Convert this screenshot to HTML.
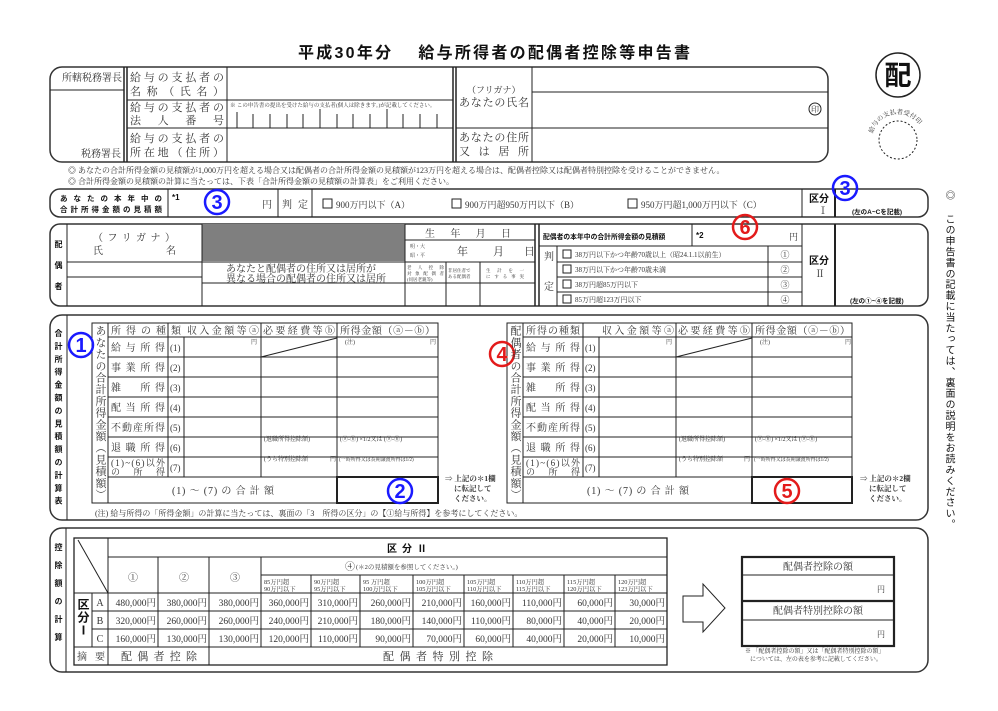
<!DOCTYPE html>
<html><head><meta charset="utf-8">
<style>
html,body{margin:0;padding:0;background:#fff;}
body{width:998px;height:711px;position:relative;overflow:hidden;font-family:"Liberation Serif","Noto Serif CJK SC","Noto Sans CJK JP",serif;}
svg{position:absolute;left:0;top:0;}
svg text{font-family:"Liberation Serif","Noto Serif CJK SC","Noto Sans CJK JP",serif;fill:#333;}
.b{font-family:"Liberation Sans","Noto Sans CJK JP",sans-serif !important;font-weight:bold;fill:#111 !important;}
.m{font-family:"Liberation Sans","DejaVu Sans",sans-serif !important;font-weight:bold;}
.v{position:absolute;writing-mode:vertical-rl;line-height:1;color:#333;white-space:nowrap;font-family:"Liberation Serif","Noto Serif CJK SC",serif;}
.vb{font-family:"Liberation Sans","Noto Sans CJK JP",sans-serif;font-weight:bold;color:#111;}
</style></head><body>
<svg width="998" height="711" viewBox="0 0 998 711">
<text x="494" y="58" text-anchor="middle" class="b" font-size="16" textLength="392" lengthAdjust="spacing">平成30年分　 給与所得者の配偶者控除等申告書</text>

<g fill="none" stroke="#333" stroke-width="1.5">
<rect x="50" y="67" width="778" height="95" rx="12"/>
<rect x="50" y="189" width="878" height="28" rx="10"/>
<rect x="50" y="224" width="878" height="82" rx="10"/>
<rect x="50" y="315" width="878" height="205" rx="12"/>
<rect x="50" y="528" width="878" height="144" rx="12"/>
</g>

<g stroke="#222" stroke-width="1" fill="none">
<line x1="50" y1="90" x2="124" y2="90"/>
<line x1="124" y1="67" x2="124" y2="162" stroke-width="1.5"/>
<line x1="127" y1="67" x2="127" y2="162" stroke-width="1.5"/>
<line x1="227" y1="67" x2="227" y2="162"/>
<line x1="127" y1="100" x2="453" y2="100"/>
<line x1="127" y1="128" x2="453" y2="128"/>
<line x1="453" y1="67" x2="453" y2="162" stroke-width="1.5"/>
<line x1="456" y1="67" x2="456" y2="162" stroke-width="1.5"/>
<line x1="532" y1="67" x2="532" y2="162"/>
<line x1="532" y1="92" x2="828" y2="92"/>
<line x1="456" y1="128" x2="828" y2="128"/>
<path d="M237 112V128M253 114V128M270 114V128M287 114V128M303 114V128M320 109V128M337 114V128M353 114V128M370 114V128M387 109V128M403 114V128M420 114V128M437 114V128"/>
<circle cx="815" cy="109" r="6"/>
<circle cx="898" cy="75" r="22" stroke-width="1.5"/>
<circle cx="898" cy="140" r="19" stroke-dasharray="2,2"/>
</g>
<text x="62" y="81" font-size="10">所轄税務署長</text>
<text x="81" y="157" font-size="10">税務署長</text>
<text x="130" y="81" font-size="11" textLength="94" lengthAdjust="spacing">給与の支払者の</text>
<text x="130" y="95" font-size="11" textLength="94" lengthAdjust="spacing">名称（氏名）</text>
<text x="130" y="111" font-size="11" textLength="94" lengthAdjust="spacing">給与の支払者の</text>
<text x="130" y="124" font-size="11" textLength="94" lengthAdjust="spacing">法　人　番　号</text>
<text x="130" y="142" font-size="11" textLength="94" lengthAdjust="spacing">給与の支払者の</text>
<text x="130" y="156" font-size="11" textLength="94" lengthAdjust="spacing">所在地（住所）</text>
<text x="230" y="107" font-size="5.5">※ この申告書の提出を受けた給与の支払者(個人は除きます。)が記載してください。</text>
<text x="467" y="93" font-size="9">（フリガナ）</text>
<text x="459" y="106" font-size="11" textLength="70" lengthAdjust="spacing">あなたの氏名</text>
<text x="459" y="141" font-size="11" textLength="70" lengthAdjust="spacing">あなたの住所</text>
<text x="459" y="155" font-size="11" textLength="70" lengthAdjust="spacing">又　は　居　所</text>
<text x="815" y="112" font-size="8" text-anchor="middle">印</text>
<text x="898" y="85" font-size="27" text-anchor="middle" class="b">配</text>
<defs><path id="arc" d="M872 140 A26 26 0 0 1 924 140"/></defs>
<text font-size="6.5"><textPath href="#arc" startOffset="8%">給与の支払者受付印</textPath></text>

<text x="68" y="173" font-size="8">◎ あなたの合計所得金額の見積額が1,000万円を超える場合又は配偶者の合計所得金額の見積額が123万円を超える場合は、配偶者控除又は配偶者特別控除を受けることができません。</text>
<text x="68" y="184" font-size="8">◎ 合計所得金額の見積額の計算に当たっては、下表「合計所得金額の見積額の計算表」をご利用ください。</text>

<g stroke="#222" stroke-width="1" fill="none">
<line x1="168" y1="189" x2="168" y2="217"/>
<line x1="278" y1="189" x2="278" y2="217"/>
<line x1="312" y1="189" x2="312" y2="217"/>
<line x1="802" y1="189" x2="802" y2="217"/>
<line x1="835" y1="189" x2="835" y2="217" stroke-width="2"/>
<rect x="323" y="199" width="9" height="9"/>
<rect x="452" y="199" width="9" height="9"/>
<rect x="628" y="199" width="9" height="9"/>
</g>
<text x="60" y="201" font-size="7.5" class="b" textLength="102" lengthAdjust="spacing">あなたの本年中の</text>
<text x="60" y="212" font-size="7.5" class="b" textLength="102" lengthAdjust="spacing">合計所得金額の見積額</text>
<text x="172" y="200" font-size="8" class="b">*1</text>
<text x="262" y="208" font-size="10">円</text>
<text x="282" y="208" font-size="10" textLength="26" lengthAdjust="spacing">判定</text>
<text x="336" y="208" font-size="9">900万円以下（A）</text>
<text x="465" y="208" font-size="9">900万円超950万円以下（B）</text>
<text x="641" y="208" font-size="9">950万円超1,000万円以下（C）</text>
<text x="809" y="202" font-size="10" class="b">区分</text>
<text x="818" y="214" font-size="10">Ⅰ</text>
<text x="852" y="214" font-size="6.5" class="b">(左のA~Cを記載)</text>

<rect x="202" y="224" width="203" height="37" fill="#7f7f7f"/>
<g stroke="#222" stroke-width="1" fill="none">
<line x1="67" y1="224" x2="67" y2="306"/>
<line x1="202" y1="224" x2="202" y2="306"/>
<line x1="405" y1="224" x2="405" y2="306"/>
<line x1="67" y1="262" x2="535" y2="262"/>
<line x1="67" y1="277" x2="202" y2="277"/>
<line x1="202" y1="283" x2="535" y2="283"/>
<line x1="405" y1="240" x2="535" y2="240"/>
<line x1="446" y1="262" x2="446" y2="306"/>
<line x1="480" y1="262" x2="480" y2="306"/>
<line x1="535" y1="224" x2="535" y2="306" stroke-width="1.5"/>
<line x1="539" y1="224" x2="539" y2="306" stroke-width="1.5"/>
<line x1="692" y1="224" x2="692" y2="246"/>
<line x1="539" y1="246" x2="802" y2="246"/>
<line x1="557" y1="246" x2="557" y2="306"/>
<line x1="557" y1="262" x2="802" y2="262"/>
<line x1="557" y1="277" x2="802" y2="277"/>
<line x1="557" y1="292" x2="802" y2="292"/>
<line x1="768" y1="246" x2="768" y2="306"/>
<line x1="802" y1="224" x2="802" y2="306"/>
<line x1="835" y1="224" x2="835" y2="306" stroke-width="2"/>
<rect x="563" y="250" width="8" height="8"/>
<rect x="563" y="265" width="8" height="8"/>
<rect x="563" y="280" width="8" height="8"/>
<rect x="563" y="295" width="8" height="8"/>
</g>
<text x="93" y="241" font-size="10" textLength="82" lengthAdjust="spacing">（フリガナ）</text>
<text x="93" y="254" font-size="10">氏</text>
<text x="166" y="254" font-size="10">名</text>
<text x="226" y="272" font-size="10">あなたと配偶者の住所又は居所が</text>
<text x="226" y="282" font-size="10">異なる場合の配偶者の住所又は居所</text>
<text x="425" y="237" font-size="10" textLength="86" lengthAdjust="spacing">生年月日</text>
<text x="410" y="248" font-size="5">明・大</text>
<text x="410" y="257" font-size="5">昭・平</text>
<text x="457" y="255" font-size="11">年</text>
<text x="493" y="255" font-size="11">月</text>
<text x="524" y="255" font-size="11">日</text>
<text x="407" y="269" font-size="4.5" textLength="37" lengthAdjust="spacing">老人控除</text>
<text x="407" y="275" font-size="4.5" textLength="37" lengthAdjust="spacing">対象配偶者</text>
<text x="407" y="281" font-size="4.5">(同居老親等)</text>
<text x="448" y="272" font-size="4.5">非居住者で</text>
<text x="448" y="278" font-size="4.5">ある配偶者</text>
<text x="486" y="272" font-size="4.5" textLength="38" lengthAdjust="spacing">生計を一</text>
<text x="486" y="278" font-size="4.5" textLength="38" lengthAdjust="spacing">にする事実</text>
<text x="543" y="239" font-size="6.8" class="b">配偶者の本年中の合計所得金額の見積額</text>
<text x="696" y="238" font-size="8" class="b">*2</text>
<text x="789" y="240" font-size="9">円</text>
<text x="544" y="260" font-size="10">判</text>
<text x="544" y="290" font-size="10">定</text>
<text x="575" y="257" font-size="7">38万円以下かつ年齢70歳以上（昭24.1.1以前生）</text>
<text x="575" y="272" font-size="7">38万円以下かつ年齢70歳未満</text>
<text x="575" y="287" font-size="7">38万円超85万円以下</text>
<text x="575" y="302" font-size="7">85万円超123万円以下</text>
<text x="785" y="258" font-size="9" text-anchor="middle">①</text>
<text x="785" y="273" font-size="9" text-anchor="middle">②</text>
<text x="785" y="288" font-size="9" text-anchor="middle">③</text>
<text x="785" y="303" font-size="9" text-anchor="middle">④</text>
<text x="809" y="264" font-size="10" class="b">区分</text>
<text x="815" y="277" font-size="10">Ⅱ</text>
<text x="850" y="303" font-size="6.5" class="b">(左の①~④を記載)</text>

<g stroke="#222" stroke-width="1" fill="none">
<line x1="67" y1="315" x2="67" y2="520"/>
<rect x="92" y="323" width="346" height="180"/>
<line x1="108" y1="323" x2="108" y2="503"/>
<line x1="168" y1="323" x2="168" y2="477"/>
<line x1="184" y1="337" x2="184" y2="477"/>
<line x1="261" y1="323" x2="261" y2="477"/>
<line x1="337" y1="323" x2="337" y2="503"/>
<path d="M108 337H438M108 357H438M108 377H438M108 397H438M108 417H438M108 437H438M108 457H438M108 477H438"/>
<line x1="337" y1="338" x2="261" y2="357"/>
<rect x="337" y="477" width="101" height="26" stroke-width="2"/>

<rect x="507" y="323" width="345" height="180"/>
<line x1="523" y1="323" x2="523" y2="503"/>
<line x1="583" y1="323" x2="583" y2="477"/>
<line x1="599" y1="337" x2="599" y2="477"/>
<line x1="676" y1="323" x2="676" y2="477"/>
<line x1="752" y1="323" x2="752" y2="503"/>
<path d="M523 337H852M523 357H852M523 377H852M523 397H852M523 417H852M523 437H852M523 457H852M523 477H852"/>
<line x1="752" y1="338" x2="676" y2="357"/>
<rect x="752" y="477" width="100" height="26" stroke-width="2"/>
</g>
<g font-size="10">
<text x="111" y="334" textLength="70" lengthAdjust="spacing">所得の種類</text>
<text x="187" y="334" textLength="72" lengthAdjust="spacing">収入金額等ⓐ</text>
<text x="263" y="334" textLength="72" lengthAdjust="spacing">必要経費等ⓑ</text>
<text x="340" y="334" textLength="95" lengthAdjust="spacing">所得金額（ⓐ－ⓑ）</text>
<text x="111" y="351" textLength="54" lengthAdjust="spacing">給与所得</text>
<text x="111" y="371" textLength="54" lengthAdjust="spacing">事業所得</text>
<text x="111" y="391" textLength="54" lengthAdjust="spacing">雑　所得</text>
<text x="111" y="411" textLength="54" lengthAdjust="spacing">配当所得</text>
<text x="111" y="431" textLength="54" lengthAdjust="spacing">不動産所得</text>
<text x="111" y="451" textLength="54" lengthAdjust="spacing">退職所得</text>
<text x="111" y="466" font-size="9" textLength="54" lengthAdjust="spacing">(1)~(6)以外</text>
<text x="111" y="475" font-size="9" textLength="54" lengthAdjust="spacing">の　所　得</text>
<text x="170" y="351" font-size="9">(1)</text><text x="170" y="371" font-size="9">(2)</text><text x="170" y="391" font-size="9">(3)</text><text x="170" y="411" font-size="9">(4)</text><text x="170" y="431" font-size="9">(5)</text><text x="170" y="451" font-size="9">(6)</text><text x="170" y="471" font-size="9">(7)</text>
<text x="172" y="494" textLength="102" lengthAdjust="spacing">(1) ～ (7) の 合 計 額</text>

<text x="526" y="334" textLength="54" lengthAdjust="spacing">所得の種類</text>
<text x="602" y="334" textLength="72" lengthAdjust="spacing">収入金額等ⓐ</text>
<text x="678" y="334" textLength="72" lengthAdjust="spacing">必要経費等ⓑ</text>
<text x="755" y="334" textLength="95" lengthAdjust="spacing">所得金額（ⓐ－ⓑ）</text>
<text x="526" y="351" textLength="54" lengthAdjust="spacing">給与所得</text>
<text x="526" y="371" textLength="54" lengthAdjust="spacing">事業所得</text>
<text x="526" y="391" textLength="54" lengthAdjust="spacing">雑　所得</text>
<text x="526" y="411" textLength="54" lengthAdjust="spacing">配当所得</text>
<text x="526" y="431" textLength="54" lengthAdjust="spacing">不動産所得</text>
<text x="526" y="451" textLength="54" lengthAdjust="spacing">退職所得</text>
<text x="526" y="466" font-size="9" textLength="54" lengthAdjust="spacing">(1)~(6)以外</text>
<text x="526" y="475" font-size="9" textLength="54" lengthAdjust="spacing">の　所　得</text>
<text x="585" y="351" font-size="9">(1)</text><text x="585" y="371" font-size="9">(2)</text><text x="585" y="391" font-size="9">(3)</text><text x="585" y="411" font-size="9">(4)</text><text x="585" y="431" font-size="9">(5)</text><text x="585" y="451" font-size="9">(6)</text><text x="585" y="471" font-size="9">(7)</text>
<text x="587" y="494" textLength="102" lengthAdjust="spacing">(1) ～ (7) の 合 計 額</text>
</g>
<g font-size="6">
<text x="251" y="344">円</text><text x="345" y="344">(注)</text><text x="430" y="344">円</text>
<text x="264" y="441">(退職所得控除額)</text><text x="340" y="441">(ⓐ-ⓑ) ×1/2又は (ⓐ-ⓑ)</text>
<text x="264" y="461">(うち特別控除額</text><text x="330" y="461">円</text><text x="339" y="461" font-size="5">(一時所得又は長期譲渡所得は1/2)</text>
<text x="666" y="344">円</text><text x="760" y="344">(注)</text><text x="845" y="344">円</text>
<text x="679" y="441">(退職所得控除額)</text><text x="755" y="441">(ⓐ-ⓑ) ×1/2又は (ⓐ-ⓑ)</text>
<text x="679" y="461">(うち特別控除額</text><text x="744" y="461">円</text><text x="754" y="461" font-size="5">(一時所得又は長期譲渡所得は1/2)</text>
</g>
<g font-size="7.5" class="b">
<text x="445" y="481">⇒ 上記の＊1欄</text><text x="454" y="491">に転記して</text><text x="454" y="501">ください。</text>
<text x="860" y="481">⇒ 上記の＊2欄</text><text x="869" y="491">に転記して</text><text x="869" y="501">ください。</text>
</g>
<text x="95" y="516" font-size="8">(注) 給与所得の「所得金額」の計算に当たっては、裏面の「3　所得の区分」の【①給与所得】を参考にしてください。</text>

<g stroke="#222" stroke-width="1" fill="none">
<line x1="66" y1="528" x2="66" y2="672"/>
<rect x="74" y="538" width="593" height="127" stroke-width="1.3"/>
<line x1="108" y1="538" x2="108" y2="665"/>
<line x1="92" y1="593" x2="92" y2="647"/>
<line x1="108" y1="557" x2="667" y2="557"/>
<line x1="261" y1="575" x2="667" y2="575"/>
<line x1="74" y1="593" x2="667" y2="593"/>
<line x1="92" y1="611" x2="667" y2="611"/>
<line x1="92" y1="629" x2="667" y2="629"/>
<line x1="74" y1="647" x2="667" y2="647"/>
<line x1="78" y1="540" x2="108" y2="593"/>
<path d="M158 557V647M209 557V665M261 557V647M311 575V647M360 575V647M413 575V647M464 575V647M513 575V647M564 575V647M615 575V647"/>
<path d="M683 596H703V584L725 608L703 632V622H683Z"/>
<rect x="742" y="557" width="152" height="89" stroke-width="2.2"/>
<line x1="742" y1="575" x2="894" y2="575"/>
<line x1="742" y1="601" x2="894" y2="601" stroke-width="2.2"/>
<line x1="742" y1="620" x2="894" y2="620"/>
</g>
<text x="387" y="552" font-size="10" class="b" textLength="40" lengthAdjust="spacing">区分Ⅱ</text>
<text x="345" y="570" font-size="10">④</text><text x="356" y="569" font-size="6.5">(＊2の見積額を参照してください。)</text>
<text x="133" y="581" font-size="10" text-anchor="middle">①</text>
<text x="184" y="581" font-size="10" text-anchor="middle">②</text>
<text x="235" y="581" font-size="10" text-anchor="middle">③</text>
<g font-size="6.3">
<text x="264" y="584">85万円超</text><text x="264" y="591">90万円以下</text>
<text x="314" y="584">90万円超</text><text x="314" y="591">95万円以下</text>
<text x="363" y="584">95 万円超</text><text x="363" y="591">100万円以下</text>
<text x="416" y="584">100万円超</text><text x="416" y="591">105万円以下</text>
<text x="467" y="584">105万円超</text><text x="467" y="591">110万円以下</text>
<text x="516" y="584">110万円超</text><text x="516" y="591">115万円以下</text>
<text x="567" y="584">115万円超</text><text x="567" y="591">120万円以下</text>
<text x="618" y="584">120万円超</text><text x="618" y="591">123万円以下</text>
</g>
<text x="100" y="606" font-size="10" text-anchor="middle">A</text>
<text x="100" y="624" font-size="10" text-anchor="middle">B</text>
<text x="100" y="642" font-size="10" text-anchor="middle">C</text>
<g font-size="9.5" text-anchor="end">
<text x="156" y="606">480,000円</text><text x="207" y="606">380,000円</text><text x="259" y="606">380,000円</text><text x="309" y="606">360,000円</text><text x="358" y="606">310,000円</text><text x="411" y="606">260,000円</text><text x="462" y="606">210,000円</text><text x="511" y="606">160,000円</text><text x="562" y="606">110,000円</text><text x="613" y="606">60,000円</text><text x="665" y="606">30,000円</text>
<text x="156" y="624">320,000円</text><text x="207" y="624">260,000円</text><text x="259" y="624">260,000円</text><text x="309" y="624">240,000円</text><text x="358" y="624">210,000円</text><text x="411" y="624">180,000円</text><text x="462" y="624">140,000円</text><text x="511" y="624">110,000円</text><text x="562" y="624">80,000円</text><text x="613" y="624">40,000円</text><text x="665" y="624">20,000円</text>
<text x="156" y="642">160,000円</text><text x="207" y="642">130,000円</text><text x="259" y="642">130,000円</text><text x="309" y="642">120,000円</text><text x="358" y="642">110,000円</text><text x="411" y="642">90,000円</text><text x="462" y="642">70,000円</text><text x="511" y="642">60,000円</text><text x="562" y="642">40,000円</text><text x="613" y="642">20,000円</text><text x="665" y="642">10,000円</text>
</g>
<text x="77" y="660" font-size="10" textLength="28" lengthAdjust="spacing">摘要</text>
<text x="121" y="660" font-size="11" textLength="76" lengthAdjust="spacing">配偶者控除</text>
<text x="383" y="660" font-size="11" textLength="110" lengthAdjust="spacing">配偶者特別控除</text>
<text x="818" y="570" font-size="10" text-anchor="middle">配偶者控除の額</text>
<text x="885" y="592" font-size="8" text-anchor="end">円</text>
<text x="818" y="614" font-size="10" text-anchor="middle">配偶者特別控除の額</text>
<text x="885" y="637" font-size="8" text-anchor="end">円</text>
<text x="745" y="653" font-size="6">※ 「配偶者控除の額」又は「配偶者特別控除の額」</text>
<text x="750" y="661" font-size="6">については、左の表を参考に記載してください。</text>

<g text-anchor="middle" stroke-width="2.5" fill="none">
<circle cx="217" cy="202" r="12" stroke="#1a1aff"/>
<circle cx="845" cy="188" r="12" stroke="#1a1aff"/>
<circle cx="745" cy="227" r="12" stroke="#e31b1b"/>
<circle cx="81" cy="345" r="12" stroke="#1a1aff"/>
<circle cx="400" cy="491" r="12" stroke="#1a1aff"/>
<circle cx="502" cy="354" r="12" stroke="#e31b1b"/>
<circle cx="787" cy="491" r="12" stroke="#e31b1b"/>
</g>
<g text-anchor="middle" font-size="20">
<text class="m" x="217" y="209" style="fill:#1a1aff">3</text>
<text class="m" x="845" y="195" style="fill:#1a1aff">3</text>
<text class="m" x="745" y="234" style="fill:#e31b1b">6</text>
<text class="m" x="81" y="352" style="fill:#1a1aff">1</text>
<text class="m" x="400" y="498" style="fill:#1a1aff">2</text>
<text class="m" x="502" y="361" style="fill:#e31b1b">4</text>
<text class="m" x="787" y="498" style="fill:#e31b1b">5</text>
</g>
</svg>

<div class="v vb" style="left:54px;top:240px;font-size:8px;letter-spacing:13px;">配偶者</div>
<div class="v vb" style="left:54px;top:329px;font-size:8px;letter-spacing:4.9px;">合計所得金額の見積額の計算表</div>
<div class="v vb" style="left:54px;top:543px;font-size:8px;letter-spacing:10px;">控除額の計算</div>
<div class="v" style="left:94px;top:325px;font-size:11px;letter-spacing:0.7px;">あなたの合計所得金額（見積額）</div>
<div class="v" style="left:509px;top:325px;font-size:11px;letter-spacing:0.7px;">配偶者の合計所得金額（見積額）</div>
<div class="v vb" style="left:77px;top:598px;font-size:12px;letter-spacing:1px;">区分Ⅰ</div>
<div class="v" style="left:943px;top:190px;font-size:10px;">◎</div>
<div class="v vb" style="left:943px;top:214px;font-size:10px;letter-spacing:0.9px;font-weight:normal;">この申告書の記載に当たっては、裏面の説明をお読みください。</div>
</body></html>
